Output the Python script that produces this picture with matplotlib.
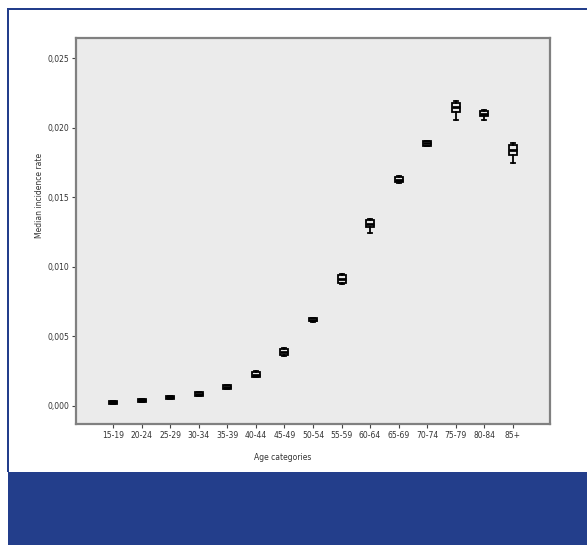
import matplotlib
matplotlib.use("Agg")
import matplotlib.pyplot as plt
from matplotlib.patches import Rectangle
from matplotlib.ticker import FuncFormatter

categories = ["15-19", "20-24", "25-29", "30-34", "35-39", "40-44", "45-49", "50-54",
              "55-59", "60-64", "65-69", "70-74", "75-79", "80-84", "85+"]
medians = [0.00027, 0.00041, 0.00062, 0.00086, 0.00139, 0.00225, 0.0039, 0.0062,
           0.0091, 0.0131, 0.01624, 0.01887, 0.02148, 0.02100, 0.01839]
q1 = [0.00016, 0.00030, 0.00052, 0.00074, 0.00124, 0.00210, 0.00368, 0.00610,
      0.00884, 0.01288, 0.01606, 0.01870, 0.02112, 0.02083, 0.01803]
q3 = [0.00036, 0.00050, 0.00071, 0.00098, 0.00150, 0.00243, 0.00408, 0.00630,
      0.00940, 0.01336, 0.01645, 0.01903, 0.02177, 0.02121, 0.01875]
whislo = [0.00014, 0.00028, 0.00050, 0.00072, 0.00122, 0.00206, 0.00362, 0.00606,
          0.00878, 0.01243, 0.01600, 0.01866, 0.02055, 0.02055, 0.01746]
whishi = [0.00038, 0.00052, 0.00073, 0.00100, 0.00152, 0.00248, 0.00414, 0.00634,
          0.00948, 0.01345, 0.01650, 0.01906, 0.02192, 0.02128, 0.01890]
yticks = [0.000, 0.005, 0.010, 0.015, 0.020, 0.025]

blue = "#233e8b"
fig = plt.figure(figsize=(5.87, 5.45), dpi=100)
fig.patch.set_facecolor("white")
# frame decorations
fig.patches.append(Rectangle((8/587, 0), 1, 73/545, transform=fig.transFigure,
                             facecolor=blue, edgecolor="none", zorder=0))
fig.patches.append(Rectangle((7/587, 1 - 10/545), 1, 2.5/545, transform=fig.transFigure,
                             facecolor=blue, edgecolor="none", zorder=0))
fig.patches.append(Rectangle((7/587, 73/545), 2.5/587, 1 - 73/545 - 8/545, transform=fig.transFigure,
                             facecolor=blue, edgecolor="none", zorder=0))

ax = fig.add_axes([76/587, 1 - 424/545, (550 - 76)/587, (424 - 38)/545])
ax.set_facecolor("#ebebeb")

stats = []
for i in range(len(categories)):
    stats.append(dict(med=medians[i], q1=q1[i], q3=q3[i], whislo=whislo[i],
                      whishi=whishi[i], fliers=[], label=categories[i]))
ax.bxp(stats, positions=range(len(categories)), widths=0.28, showfliers=False,
       patch_artist=True,
       boxprops=dict(facecolor="#e8e8e8", edgecolor="black", linewidth=1.3),
       medianprops=dict(color="black", linewidth=2.0),
       whiskerprops=dict(color="black", linewidth=1.3),
       capprops=dict(color="black", linewidth=1.3), capwidths=0.14)

ax.set_xlim(-1.3, 15.3)
ax.set_ylim(-0.0013, 0.02644)
ax.set_yticks(yticks)
ax.yaxis.set_major_formatter(FuncFormatter(lambda v, p: f"{v:.3f}".replace(".", ",")))
ax.set_xticks(range(len(categories)))
ax.set_xticklabels(categories)
ax.tick_params(axis="both", labelsize=5.5, length=3, width=0.8, color="#444444", pad=2,
               labelcolor="#333333")
for s in ax.spines.values():
    s.set_color("#808080")
    s.set_linewidth(1.6)

fig.text(283/587, 1 - 457/545, "Age categories", ha="center", va="center",
         fontsize=5.5, color="#333333")
fig.text(40/587, 1 - 195/545, "Median incidence rate", ha="center", va="center",
         rotation=90, fontsize=5.5, color="#333333")

fig.savefig("out.png", dpi=100)
